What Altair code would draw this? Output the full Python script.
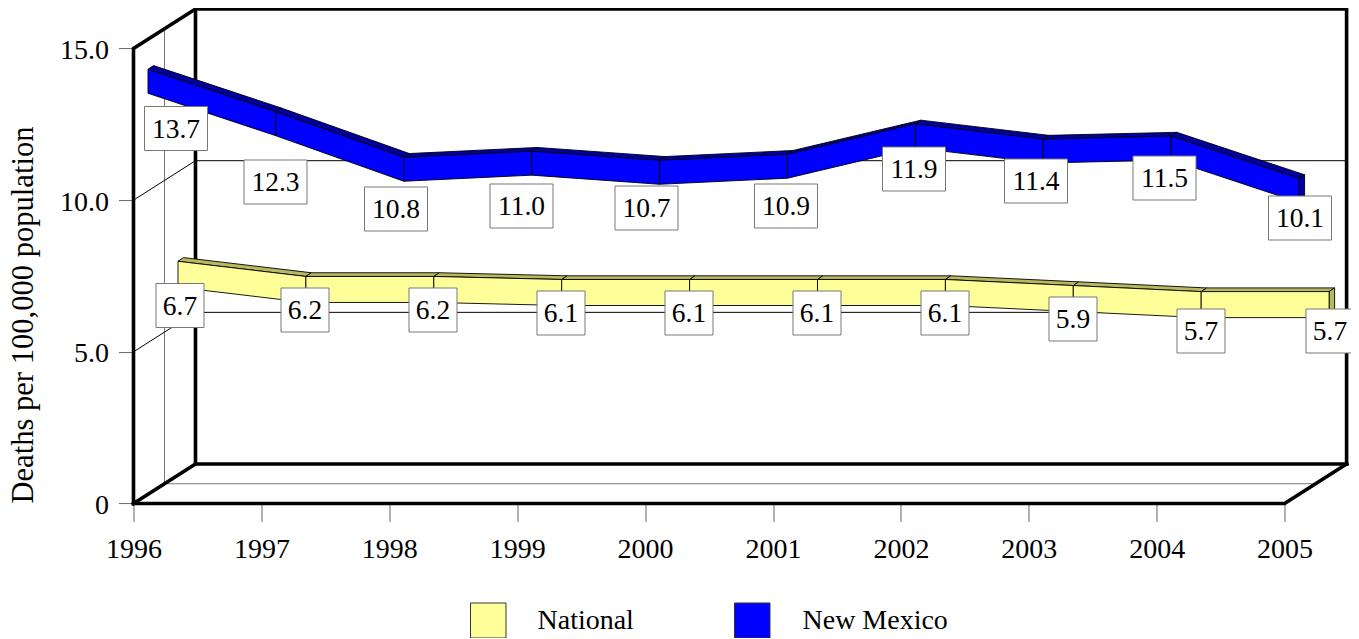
import altair as alt
import numpy as np
import pandas as pd

# ---- data ----
years = list(range(1996, 2006))
new_mexico = [13.7, 12.3, 10.8, 11.0, 10.7, 10.9, 11.9, 11.4, 11.5, 10.1]
national = [6.7, 6.2, 6.2, 6.1, 6.1, 6.1, 6.1, 5.9, 5.7, 5.7]
y_ticks = [0, 5, 10, 15]
series_names = ["National", "New Mexico"]

# ---- layout ----
FONT = "Liberation Serif"
PX_X = 127.9           # pixels per year
PX_Y = 30.33           # pixels per unit
LEFT, BOTTOM = 133.5, 503.5
DEPTH_X, DEPTH_Y = 62 / PX_X, 39.5 / PX_Y
W = 9 * PX_X + 62
H = (15 + DEPTH_Y) * PX_Y
xs = alt.Scale(domain=[1996, 2005 + DEPTH_X], nice=False, zero=False)
ys = alt.Scale(domain=[0, 15 + DEPTH_Y], nice=False)


def fx(px):
    return 1996 + (px - LEFT) / PX_X


def fy(py):
    return (BOTTOM - py) / PX_Y


x_axis = alt.Axis(
    values=years, format="d", domain=False, grid=False, title=None,
    tickSize=18, tickColor="#666666", tickWidth=1,
    labelFont=FONT, labelFontSize=28, labelColor="black",
    labelPadding=14, labelFlush=False, labelOverlap=False,
    labelBaseline="top",
)
y_axis = alt.Axis(
    values=y_ticks, domain=False, grid=False,
    labelExpr="datum.value == 0 ? '0' : format(datum.value, '.1f')",
    title="Deaths per 100,000 population",
    titleFont=FONT, titleFontSize=30.6, titleFontWeight="normal", titleColor="black",
    titleX=-100.5, titleY=305.5, titleAlign="center", titleBaseline="alphabetic",
    tickSize=15, tickColor="#666666", tickWidth=1,
    labelFont=FONT, labelFontSize=28, labelColor="black", labelPadding=10,
    labelOffset=2, labelOverlap=False,
)


def XE(f="x"):
    return alt.X(f"{f}:Q", scale=xs, axis=x_axis)


def YE(f="y"):
    return alt.Y(f"{f}:Q", scale=ys, axis=y_axis)


def lines(segments, **mark):
    rows = []
    for i, pts in enumerate(segments):
        for j, (a, b) in enumerate(pts):
            rows.append({"s": i, "o": j, "x": a, "y": b})
    return alt.Chart(pd.DataFrame(rows)).mark_line(**mark).encode(
        x=XE(), y=YE(), detail="s:N", order="o:Q"
    )


x0, x1 = years[0], years[-1]
dx, dy = DEPTH_X, DEPTH_Y

thick = lines(
    [
        [(x0, 0), (x0, 15), (x0 + dx, 15 + dy), (x1 + dx, 15 + dy), (x1 + dx, dy)],
        [(x0 + dx, 15 + dy), (x0 + dx, dy), (x1 + dx, dy)],
        [(x0, 0), (x0 + dx, dy)],
        [(x0, 0), (x1, 0), (x1 + dx, dy)],
    ],
    color="black", strokeWidth=3.6, strokeCap="square", strokeJoin="miter",
)
mid = lines(
    [
        [(x0 + dx / 2, 15 + dy / 2), (x0 + dx / 2, dy / 2), (x1 + dx / 2, dy / 2)],
    ],
    color="#777777", strokeWidth=1,
)
grid = lines(
    [[(x0, v), (x0 + dx, v + dy), (x1 + dx, v + dy)] for v in y_ticks[1:3]],
    color="black", strokeWidth=1,
)


def ribbon(values, px_start, lift_px, thick_px, front, dark):
    thick_u = thick_px / PX_Y
    rx, ry = 5.5 / PX_X, 3.7 / PX_Y
    xv = [yr + (px_start - LEFT) / PX_X for yr in years]
    top = [v + lift_px / PX_Y for v in values]
    fr, tp = [], []
    for i in range(len(xv) - 1):
        a, b = xv[i], xv[i + 1]
        fr += [
            {"s": i, "x": a, "y": top[i], "y2": top[i] - thick_u},
            {"s": i, "x": b, "y": top[i + 1], "y2": top[i + 1] - thick_u},
        ]
        st = [a, a + rx, b, b + rx]
        low = np.interp(st, [a, b, b + rx], [top[i], top[i + 1], top[i + 1] + ry])
        upp = np.interp(st, [a, a + rx, b + rx], [top[i], top[i] + ry, top[i + 1] + ry])
        tp += [{"s": i, "x": s, "y": u, "y2": l} for s, l, u in zip(st, low, upp)]
    e = xv[-1]
    sd = [
        {"s": 0, "x": e, "y": top[-1], "y2": top[-1] - thick_u},
        {"s": 0, "x": e + rx, "y": top[-1] + ry, "y2": top[-1] - thick_u + ry},
    ]
    enc_ = dict(x=XE(), y=YE(), y2=alt.Y2("y2:Q"), detail="s:N")
    stroke = dict(stroke="black", strokeWidth=0.9, interpolate="linear")
    return [
        alt.Chart(pd.DataFrame(tp)).mark_area(color=dark, **stroke).encode(**enc_),
        alt.Chart(pd.DataFrame(sd)).mark_area(color=dark, **stroke).encode(**enc_),
        alt.Chart(pd.DataFrame(fr)).mark_area(color=front, **stroke).encode(**enc_),
    ]


YELLOW, BLUE = "#ffff99", "#0000ff"
rib_nat = ribbon(national, 178, 39, 26, YELLOW, "#b8b860")
rib_nm = ribbon(new_mexico, 148, 18.7, 24, BLUE, "#0000a0")

# label box centres, in pixels of the picture
nm_cx = [176, 275.5, 396, 521.5, 646.5, 786, 914, 1036, 1164.5, 1300]
nm_cy = [128.5, 182, 209, 206, 208, 206, 169, 181, 178, 218]
nat_cx = [180, 305, 433, 561, 689, 817, 945, 1073, 1201, 1330]
nat_cy = [305.5, 310, 310, 313, 313, 313, 313, 319, 331, 331]


def boxes(values, cx, cy, w):
    df = pd.DataFrame(
        {
            "x": [fx(c - w / 2) for c in cx],
            "x2": [fx(c + w / 2) for c in cx],
            "y": [fy(c - 22) for c in cy],
            "y2": [fy(c + 22) for c in cy],
            "tx": [fx(c) for c in cx],
            "ty": [fy(c + 1) for c in cy],
            "label": [f"{v:.1f}" for v in values],
        }
    )
    r = alt.Chart(df).mark_rect(fill="white", stroke="#777777", strokeWidth=1).encode(
        x=XE(), x2="x2:Q", y=YE(), y2="y2:Q"
    )
    t = alt.Chart(df).mark_text(
        font=FONT, fontSize=27.5, color="black", align="center", baseline="middle"
    ).encode(x=XE("tx"), y=YE("ty"), text="label:N")
    return [r, t]


legend_df = pd.DataFrame(
    {
        "x": [fx(470.5), fx(734.5)],
        "x2": [fx(506), fx(770)],
        "y": [fy(603), fy(603)],
        "y2": [fy(638), fy(638)],
        "tx": [fx(537.5), fx(802.5)],
        "ty": [fy(621), fy(621)],
        "name": series_names,
        "fill": [YELLOW, BLUE],
    }
)
leg_rect = alt.Chart(legend_df).mark_rect(stroke="#333333", strokeWidth=1).encode(
    x=XE(), x2="x2:Q", y=YE(), y2="y2:Q", fill=alt.Fill("fill:N", scale=None)
)
leg_text = alt.Chart(legend_df).mark_text(
    font=FONT, fontSize=28, color="black", align="left", baseline="middle"
).encode(x=XE("tx"), y=YE("ty"), text="name:N")

chart = alt.layer(
    mid, grid, thick,
    *rib_nat, *rib_nm,
    *boxes(new_mexico, nm_cx, nm_cy, 63),
    *boxes(national, nat_cx, nat_cy, 48),
    leg_rect, leg_text,
).properties(
    width=W, height=H,
    padding={"left": LEFT - 8, "top": BOTTOM - 8 - H, "right": 4, "bottom": 134},
    autosize=alt.AutoSizeParams(type="none"),
    background="white",
).configure_view(stroke=None)

chart.save("out.html", embed_options={"renderer": "svg", "actions": False})
